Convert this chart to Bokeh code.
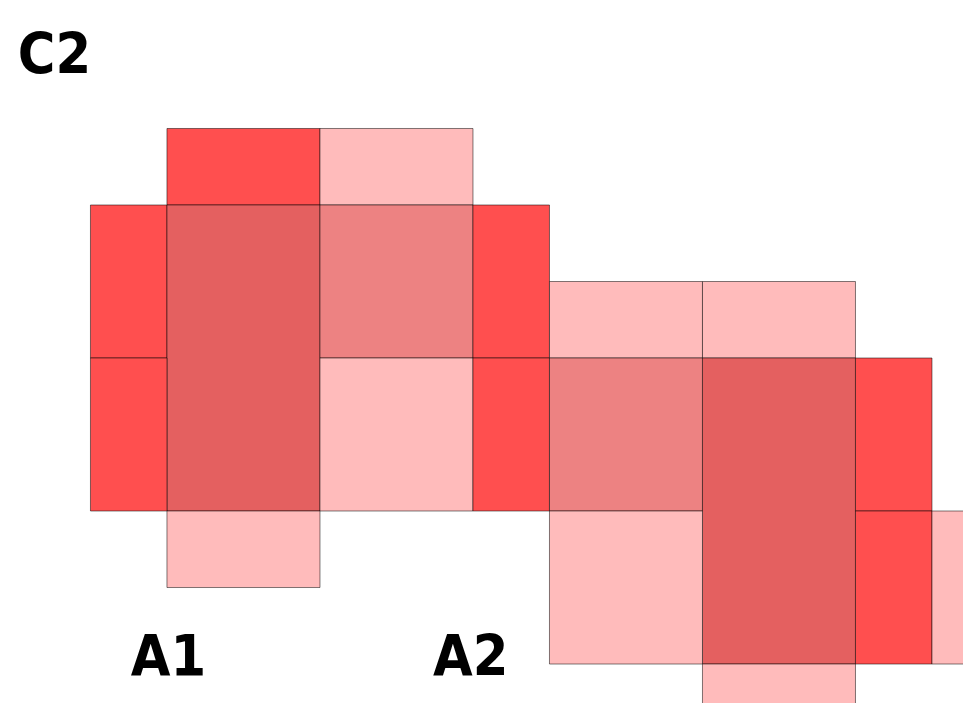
from bokeh.plotting import figure
from bokeh.models import Range1d, ColumnDataSource
from bokeh.transform import factor_cmap
from bokeh.core.properties import value
from bokeh.embed import file_html
from bokeh.resources import INLINE

# cells in grid units (one unit = half a square), y grows downward
cell_left   = [1, 3, 0, 1, 3, 5, 0, 3, 5, 1, 6, 8, 6, 8, 10, 6, 10, 11, 8]
cell_right  = [3, 5, 1, 3, 5, 6, 1, 5, 6, 3, 8, 10, 8, 10, 11, 8, 11, 13, 10]
cell_top    = [0, 0, 1, 1, 1, 1, 3, 3, 3, 5, 2, 2, 3, 3, 3, 5, 5, 5, 7]
cell_bottom = [1, 1, 3, 5, 3, 3, 5, 5, 5, 6, 3, 3, 5, 7, 5, 7, 7, 7, 8]
cell_level  = ["red", "pink", "red", "dark", "medium", "red", "red", "pink", "red", "pink",
               "pink", "pink", "medium", "dark", "red", "pink", "red", "pink", "pink"]

levels = ["red", "dark", "medium", "pink"]
level_colors = ["#FF4F4F", "#E46060", "#ED8282", "#FFBBBB"]

labels = ["C2", "A1", "A2"]
label_x = [-0.47, 1.02, 4.97]
label_y = [-0.975, 6.895, 6.895]

src = ColumnDataSource(dict(left=cell_left, right=cell_right, top=cell_top,
                            bottom=cell_bottom, level=cell_level))

p = figure(width=963, height=703, output_backend="svg", toolbar_location=None,
           x_range=Range1d(-1.176, 11.412), y_range=Range1d(7.516, -1.673),
           min_border=0)
p.axis.visible = False
p.xgrid.visible = False
p.ygrid.visible = False
p.outline_line_color = None
p.background_fill_color = "white"

p.quad(left="left", right="right", top="top", bottom="bottom", source=src,
       fill_color=factor_cmap("level", level_colors, levels), fill_alpha=1.0,
       line_color="#000000", line_alpha=0.5, line_width=1)

p.text(x=label_x, y=label_y, text=labels,
       text_font=value("'DejaVu Sans Condensed', Roboto, sans-serif"),
       text_font_style="bold", text_font_size="57px", text_color="#000000",
       text_baseline="middle", text_align="center")

open("out.html", "w").write(file_html(p, INLINE))
